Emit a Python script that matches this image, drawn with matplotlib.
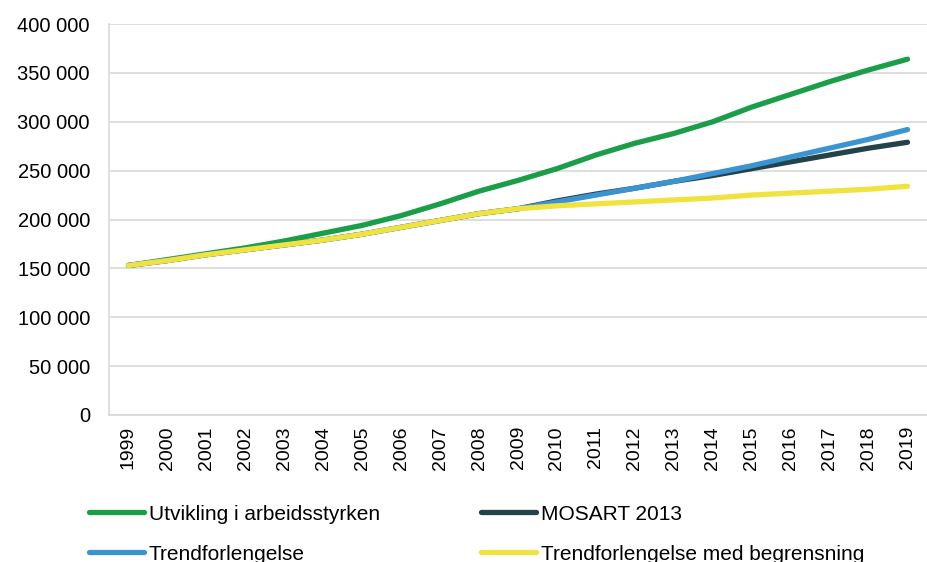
import numpy as np
import matplotlib.pyplot as plt

plt.rcParams['font.family'] = ['Liberation Sans', 'DejaVu Sans']

years = [str(y) for y in range(1999, 2020)]

arbeidsstyrke = [153000, 159000, 165000, 171000, 178000, 186000, 194000, 204000,
                 216000, 229000, 240000, 252000, 266000, 278000, 288000, 300000,
                 315000, 328000, 341000, 353000, 364000]
mosart = [153000, 158000, 164000, 169000, 174000, 179000, 185000, 192000,
          199000, 206000, 211000, 219000, 226000, 232000, 239000, 245000,
          252000, 259000, 266000, 273000, 279000]
trend = [153000, 158000, 164000, 169000, 174000, 179000, 185000, 192000,
         199000, 206000, 211000, 218000, 225000, 232000, 239000, 247000,
         255000, 264000, 273000, 282000, 292000]
trend_begr = [153000, 158000, 164000, 169000, 174000, 179000, 185000, 192000,
              199000, 206000, 211000, 214000, 216000, 218000, 220000, 222000,
              225000, 227000, 229000, 231000, 234000]

labels = ["Utvikling i arbeidsstyrken", "MOSART 2013",
          "Trendforlengelse", "Trendforlengelse med begrensning"]
colors = ["#1a9e48", "#24424a", "#3a94d2", "#f0e33f"]

fig = plt.figure(figsize=(9.27, 5.62), dpi=100)
ax = fig.add_axes([109 / 927, 147 / 562, 818 / 927, 391 / 562])

x = np.arange(len(years))
lw = 3.8
l1, = ax.plot(x, arbeidsstyrke, color=colors[0], lw=lw, solid_capstyle='round')
l2, = ax.plot(x, mosart, color=colors[1], lw=lw, solid_capstyle='round')
l3, = ax.plot(x, trend, color=colors[2], lw=lw, solid_capstyle='round')
l4, = ax.plot(x, trend_begr, color=colors[3], lw=lw, solid_capstyle='round')

ax.set_xlim(-0.5, len(years) - 0.5)
ax.set_ylim(0, 400000)
ax.set_yticks(range(0, 400001, 50000))
ax.set_yticklabels([f"{v:,}".replace(",", " ") for v in range(0, 400001, 50000)])
ax.set_xticks(x)
ax.set_xticklabels(years, rotation=90)
ax.tick_params(axis='both', length=0, colors='black')
ax.tick_params(axis='y', pad=13.7, labelsize=14.5)
ax.tick_params(axis='x', pad=8, labelsize=14)

ax.grid(axis='y', color='#d9d9d9', lw=1.2)
ax.set_axisbelow(True)
for s in ['top', 'right']:
    ax.spines[s].set_visible(False)
ax.spines['left'].set_color('#d9d9d9')
ax.spines['bottom'].set_color('#d9d9d9')
ax.spines['left'].set_linewidth(1.2)
ax.spines['bottom'].set_linewidth(1.2)

leg = fig.legend([l1, l3, l2, l4], [labels[0], labels[2], labels[1], labels[3]],
                 ncol=2, loc='upper left', bbox_to_anchor=(70 / 927, 1 - 486 / 562),
                 frameon=False, fontsize=15, handlelength=2.64, handletextpad=0.24,
                 columnspacing=4.85, labelspacing=1.0)

fig.savefig("out.png", dpi=100)
